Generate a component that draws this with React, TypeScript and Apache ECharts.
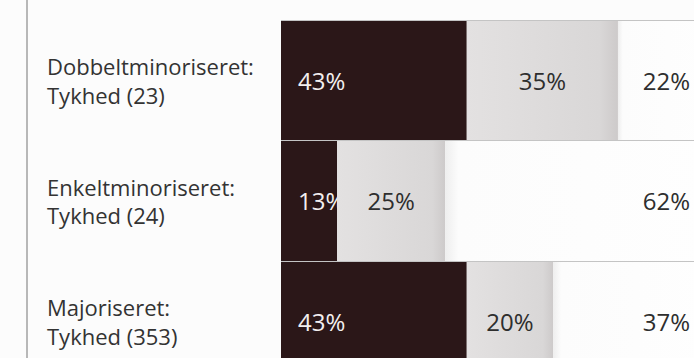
import React, { useEffect, useRef } from "react";
import * as echarts from "echarts";

const categories = [
  "Dobbeltminoriseret:\nTykhed (23)",
  "Enkeltminoriseret:\nTykhed (24)",
  "Majoriseret:\nTykhed (353)",
];
const darkValues = [43, 13, 43];
const greyValues = [35, 25, 20];
const whiteValues = [22, 62, 37];

const FONT = "'Open Sans', 'Noto Sans', sans-serif";

export default function App() {
  const ref = useRef<HTMLDivElement>(null);
  useEffect(() => {
    if (!ref.current) return;
    const chart = echarts.init(ref.current, null, { renderer: "svg" });
    const labelBase = {
      show: true,
      formatter: "{c}%",
      fontSize: 24,
      fontFamily: FONT,
    };
    chart.setOption({
      animation: false,
      backgroundColor: "#fcfcfc",
      grid: { left: 281, top: 20, right: 27, bottom: 18.5, containLabel: false },
      xAxis: { type: "value", min: 0, max: 100, show: false },
      yAxis: {
        type: "category",
        inverse: true,
        data: categories,
        z: 10,
        axisLine: { show: false },
        axisTick: { show: false },
        splitLine: { show: true, lineStyle: { color: "#c4c4c4", width: 1.2 } },
        axisLabel: {
          align: "left",
          margin: 234,
          fontSize: 22,
          lineHeight: 28.5,
          color: "#333333",
          fontFamily: FONT,
          padding: [0, 0, 4, 0],
        },
      },
      graphic: [
        {
          type: "line",
          shape: { x1: 27, y1: 0, x2: 27, y2: 400 },
          style: { stroke: "#a2a2a2", lineWidth: 1.5 },
        },
      ],
      series: [
        {
          type: "bar",
          stack: "total",
          z: 2,
          barCategoryGap: "0%",
          data: darkValues,
          itemStyle: { color: "#2b1718" },
          label: { ...labelBase, position: "insideLeft", distance: 17, color: "#f3efef" },
        },
        {
          type: "bar",
          stack: "total",
          z: 3,
          barCategoryGap: "0%",
          data: greyValues,
          itemStyle: {
            color: {
              type: "linear",
              x: 0, y: 0, x2: 1, y2: 0,
              colorStops: [
                { offset: 0, color: "#e3e1e1" },
                { offset: 0.88, color: "#d9d7d7" },
                { offset: 1, color: "#cdcaca" },
              ],
            },
          },
          label: { ...labelBase, position: "inside", color: "#2e2e2e" },
        },
        {
          type: "bar",
          stack: "total",
          z: 4,
          barCategoryGap: "0%",
          data: whiteValues,
          itemStyle: {
            color: {
              type: "linear",
              x: 0, y: 0, x2: 1, y2: 0,
              colorStops: [
                { offset: 0, color: "#eeeeee" },
                { offset: 0.05, color: "#fcfcfc" },
                { offset: 1, color: "#fefefe" },
              ],
            },
          },
          label: { ...labelBase, position: "insideRight", distance: 23, color: "#2e2e2e" },
        },
      ],
    });
    return () => chart.dispose();
  }, []);
  return (
    <div
      style={{
        position: "fixed",
        left: 0,
        top: 0,
        width: 694,
        height: 358,
        overflow: "hidden",
      }}
    >
      <div ref={ref} style={{ width: 740, height: 400 }} />
    </div>
  );
}
